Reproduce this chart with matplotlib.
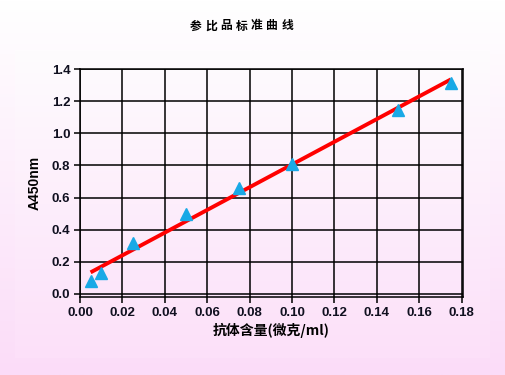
import numpy as np
import matplotlib
matplotlib.use('Agg')
import matplotlib.pyplot as plt
from matplotlib.colors import LinearSegmentedColormap

plt.rcParams['font.family'] = ['Liberation Sans', 'Noto Sans CJK SC', 'DejaVu Sans']

# data
conc = [0.005, 0.01, 0.025, 0.05, 0.075, 0.10, 0.15, 0.175]
absorb = [0.08, 0.13, 0.32, 0.50, 0.66, 0.81, 1.145, 1.315]
xticks = [0.00, 0.02, 0.04, 0.06, 0.08, 0.10, 0.12, 0.14, 0.16, 0.18]
yticks = [0.0, 0.2, 0.4, 0.6, 0.8, 1.0, 1.2, 1.4]
title = '参比品标准曲线'
xlabel = '抗体含量(微克/ml)'
ylabel = 'A450nm'

cjk = ['Noto Sans CJK SC', 'DejaVu Sans']

fig = plt.figure(figsize=(5.05, 3.75), dpi=100)

# pink gradient background
grad = np.linspace(0, 1, 256).reshape(-1, 1)
outer = LinearSegmentedColormap.from_list('outer', ['#ffffff', '#fbdcf8'])
inner = LinearSegmentedColormap.from_list('inner', ['#fefcfe', '#fce0f9'])
bg = fig.add_axes([0, 0, 1, 1], zorder=-2)
bg.imshow(grad, aspect='auto', cmap=outer, extent=[0, 1, 0, 1], origin='upper')
bg.axis('off')
bg2 = fig.add_axes([15/505, 17/375, 475/505, 308/375], zorder=-1)
bg2.imshow(grad[40:], aspect='auto', cmap=inner, extent=[0, 1, 0, 1], origin='upper')
bg2.axis('off')

ax = fig.add_axes([80/505, 78/375, 383/505, 228/375])
ax.set_facecolor('none')

slope, icpt = np.polyfit(conc, absorb, 1)
xs = np.array([conc[0], conc[-1]])
ax.plot(xs, slope * xs + icpt, color='#ff0000', lw=2.8, zorder=3, solid_capstyle='butt')
ax.plot(conc, absorb, linestyle='none', marker='^', ms=8.5, color='#19a9e6', zorder=4)

ax.set_xlim(0, 0.1807)
ax.set_ylim(-0.019, 1.4)
ax.set_xticks(xticks)
ax.set_yticks(yticks)
ax.set_xticklabels([f'{v:.2f}' for v in xticks])
ax.set_yticklabels([f'{v:.1f}' for v in yticks])
ax.grid(True, color='black', lw=1.1)
ax.set_axisbelow(True)
for s in ax.spines.values():
    s.set_color('black')
    s.set_linewidth(1.1)
ax.tick_params(direction='out', length=4, width=1.1, colors='black',
               labelsize=9.5, pad=3)
for lab in ax.get_xticklabels() + ax.get_yticklabels():
    lab.set_fontweight('bold')
    lab.set_color('#101020')

ax.set_xlabel(xlabel, fontsize=10, fontweight='bold', labelpad=3, family=cjk)
ax.set_ylabel(ylabel, fontsize=10, fontweight='bold', labelpad=7)

# title with wide letter spacing, as in the original
step = 15.3
x0 = 241.5 - step * (len(title) - 1) / 2
for i, ch in enumerate(title):
    fig.text((x0 + i * step) / 505, 1 - 26/375, ch, ha='center', va='center',
             fontsize=8.5, fontweight='bold', family=cjk)

fig.savefig('out.png', dpi=100)
